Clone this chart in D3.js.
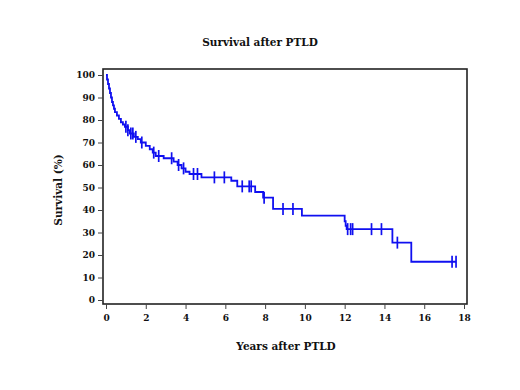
<!DOCTYPE html>
<html>
<head>
<meta charset="utf-8">
<script src="https://cdn.jsdelivr.net/npm/d3@7"></script>
<style>
  body { margin: 0; background: #fff; }
  text { font-family: "DejaVu Serif", serif; font-weight: bold; fill: #111; }
</style>
</head>
<body>
<svg id="svg" width="520" height="390"></svg>
<script>
// step times (years) and survival (%) after each step
var stepTimes = [0, 0.05, 0.1, 0.15, 0.2, 0.25, 0.3, 0.35, 0.4, 0.45, 0.55, 0.65, 0.75, 0.85, 0.95,
  1.1, 1.2, 1.4, 1.6, 1.75, 2.0, 2.2, 2.35, 2.5, 2.9, 3.4, 3.6, 3.8, 4.0, 4.2, 4.8,
  6.3, 6.6, 7.5, 7.9, 8.4, 9.85, 12.0, 12.05, 12.1, 14.4, 15.35],
  stepSurv = [100, 98, 96, 94, 92, 90, 88, 86.5, 85, 83.5, 82, 80.5, 79, 78, 77,
  75.5, 74, 72.5, 71.5, 70, 68.5, 67, 65.5, 64, 63, 61.5, 60, 58.5, 57, 56, 54.5,
  53, 50.5, 48, 45.5, 40.5, 37.5, 35, 33, 31.5, 25.5, 17],
  endTime = 17.6,
  censorTimes = [1.0, 1.1, 1.25, 1.35, 1.5, 1.8, 2.4, 2.65, 3.3, 3.65, 3.9, 4.4, 4.6, 5.45, 5.95,
  6.85, 7.2, 7.3, 7.95, 8.9, 9.4, 12.15, 12.3, 12.4, 13.35, 13.85, 14.65, 17.4, 17.6],
  xTicks = [0, 2, 4, 6, 8, 10, 12, 14, 16, 18],
  yTicks = [0, 10, 20, 30, 40, 50, 60, 70, 80, 90, 100];

var svg = d3.select("#svg"),
  box = { left: 103, right: 467, top: 69, bottom: 304 },
  x = d3.scaleLinear().domain([0, 18]).range([106, 464]),
  y = d3.scaleLinear().domain([0, 100]).range([300, 75]);

function survAt(t) {
  var s = stepSurv[0];
  for (var i = 0; i < stepTimes.length; i++) {
    if (stepTimes[i] <= t) s = stepSurv[i];
  }
  return s;
}

// title
svg.append("text")
  .attr("x", 260).attr("y", 46)
  .attr("text-anchor", "middle")
  .style("font-size", "10.5px")
  .text("Survival after PTLD");

// box
svg.append("rect")
  .attr("x", box.left).attr("y", box.top)
  .attr("width", box.right - box.left).attr("height", box.bottom - box.top)
  .attr("fill", "none").attr("stroke", "#222").attr("stroke-width", 1.6);

// axes
var gx = svg.append("g")
  .attr("transform", "translate(0," + box.bottom + ")")
  .call(d3.axisBottom(x).tickValues(xTicks).tickSize(5).tickPadding(6));
var gy = svg.append("g")
  .attr("transform", "translate(" + box.left + ",0)")
  .call(d3.axisLeft(y).tickValues(yTicks).tickSize(5).tickPadding(3));
svg.selectAll(".domain").remove();
svg.selectAll(".tick line").attr("stroke", "#444");
svg.selectAll(".tick text").style("font-size", "9px").style("font-family", "DejaVu Serif").style("font-weight", "bold");

// axis labels
svg.append("text")
  .attr("x", 286).attr("y", 350)
  .attr("text-anchor", "middle")
  .style("font-size", "10.5px")
  .text("Years after PTLD");
svg.append("text")
  .attr("transform", "translate(62,190) rotate(-90)")
  .attr("text-anchor", "middle")
  .style("font-size", "10.5px")
  .text("Survival (%)");

// KM curve
var pts = stepTimes.map(function (t, i) { return [t, stepSurv[i]]; });
pts.push([endTime, stepSurv[stepSurv.length - 1]]);
var line = d3.line()
  .x(function (d) { return x(d[0]); })
  .y(function (d) { return y(d[1]); })
  .curve(d3.curveStepAfter);
svg.append("path")
  .attr("d", line(pts))
  .attr("fill", "none")
  .attr("stroke", "#1010f0")
  .attr("stroke-width", 1.8);

// censor marks
svg.selectAll(".censor")
  .data(censorTimes)
  .enter().append("line")
  .attr("class", "censor")
  .attr("x1", function (d) { return x(d); })
  .attr("x2", function (d) { return x(d); })
  .attr("y1", function (d) { return y(survAt(d)) - 6; })
  .attr("y2", function (d) { return y(survAt(d)) + 6; })
  .attr("stroke", "#1010f0")
  .attr("stroke-width", 1.7);
</script>
</body>
</html>
